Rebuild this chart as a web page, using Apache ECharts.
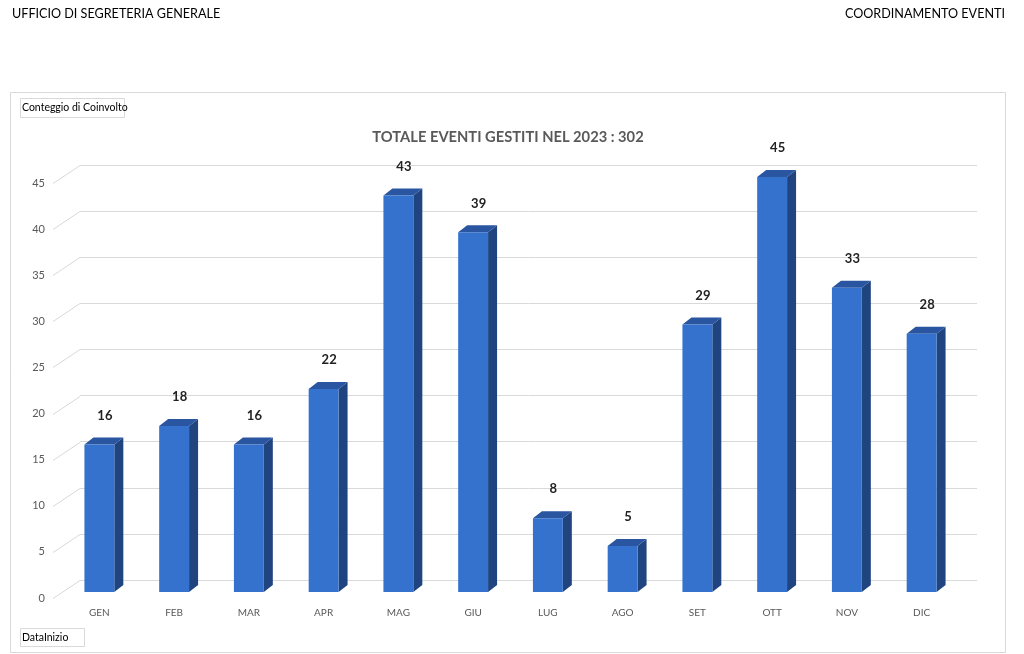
<!DOCTYPE html>
<html>
<head>
<meta charset="utf-8">
<script src="https://cdn.jsdelivr.net/npm/echarts@6/dist/echarts.min.js"></script>
<style>
html,body{margin:0;padding:0;background:#fff;}
#chart{width:1024px;height:654px;}
</style>
</head>
<body>
<div id="chart"></div>
<script>
const months = ['GEN','FEB','MAR','APR','MAG','GIU','LUG','AGO','SET','OTT','NOV','DIC'];
const eventCounts = [16,18,16,22,43,39,8,5,29,45,33,28];
const yTicks = [0,5,10,15,20,25,30,35,40,45];
const chartTitle = 'TOTALE EVENTI GESTITI NEL 2023 : 302';
const headerLeft = 'UFFICIO DI SEGRETERIA GENERALE';
const headerRight = 'COORDINAMENTO EVENTI';
const valueFieldLabel = 'Conteggio di Coinvolto';
const categoryFieldLabel = 'DataInizio';

const FONT = 'Lato, "Open Sans", sans-serif';
const DEPTH_X = 9, DEPTH_Y = -7;
const FRONT = '#3572CD', TOP = '#2A55A0', SIDE = '#1F447F';

const chart = echarts.init(document.getElementById('chart'));

chart.setOption({
  animation: false,
  backgroundColor: '#ffffff',
  grid: [
    {left: 80, right: 47, top: 165, bottom: 74},   // back wall
    {left: 53, right: 74, top: 183, bottom: 56},   // front plane (value labels)
    {left: 62, right: 65, top: 177, bottom: 62}    // bar front faces
  ],
  xAxis: [
    {gridIndex: 0, type: 'category', data: months, show: false},
    {gridIndex: 1, type: 'category', data: months, show: false},
    {gridIndex: 2, type: 'category', data: months,
     axisLine: {show: false}, axisTick: {show: false},
     axisLabel: {margin: 16, color: '#595959', fontFamily: FONT, fontSize: 10}}
  ],
  yAxis: [
    {gridIndex: 0, type: 'value', min: 0, max: 45, interval: 5,
     axisLabel: {show: false}, axisLine: {show: false}, axisTick: {show: false},
     splitLine: {lineStyle: {color: '#d9d9d9', width: 1}}},
    {gridIndex: 1, type: 'value', min: 0, max: 45, interval: 5,
     axisLine: {show: false}, axisTick: {show: false}, splitLine: {show: false},
     axisLabel: {margin: 8, color: '#595959', fontFamily: FONT, fontSize: 11}},
    {gridIndex: 2, type: 'value', min: 0, max: 45, interval: 5, show: false}
  ],
  series: [
    {
      type: 'custom', xAxisIndex: 0, yAxisIndex: 0, silent: true,
      data: yTicks.map(t => [0, t]),
      renderItem: function (params, api) {
        const y = Math.round(api.coord([0, api.value(1)])[1]) + 0.5;
        const x0 = params.coordSys.x;
        return {type: 'line', shape: {x1: x0, y1: y, x2: x0 - 27, y2: y + 18},
                style: {stroke: '#d9d9d9', lineWidth: 1}};
      }
    },
    {
      type: 'custom', xAxisIndex: 2, yAxisIndex: 2,
      data: eventCounts.map((v, i) => [i, v]),
      renderItem: function (params, api) {
        const top = api.coord([api.value(0), api.value(1)]);
        const base = api.coord([api.value(0), 0]);
        const w = api.size([1, 0])[0] * 0.4;
        const x1 = top[0] - w / 2, x2 = top[0] + w / 2;
        const yt = top[1], yb = base[1];
        return {
          type: 'group',
          children: [
            {type: 'polygon', shape: {points: [[x2, yb], [x2, yt], [x2 + DEPTH_X, yt + DEPTH_Y], [x2 + DEPTH_X, yb + DEPTH_Y]]},
             style: {fill: SIDE}},
            {type: 'polygon', shape: {points: [[x1, yt], [x2, yt], [x2 + DEPTH_X, yt + DEPTH_Y], [x1 + DEPTH_X, yt + DEPTH_Y]]},
             style: {fill: TOP}},
            {type: 'rect', shape: {x: x1, y: yt, width: w, height: yb - yt},
             style: {fill: FRONT}},
            {type: 'text', x: top[0] + DEPTH_X / 2 + 1, y: yt - 29,
             style: {text: String(api.value(1)), align: 'center', verticalAlign: 'middle',
                     fill: '#222222', font: 'bold 13px ' + FONT}}
          ]
        };
      }
    }
  ],
  graphic: [
    {type: 'rect', shape: {x: 10.5, y: 92.5, width: 995, height: 560}, silent: true,
     style: {fill: 'none', stroke: '#d9d9d9', lineWidth: 1}, z: -10},
    {type: 'text', x: 508, y: 137, style: {text: chartTitle, fill: '#595959', font: 'bold 14.7px ' + FONT, align: 'center', verticalAlign: 'middle'}},
    {type: 'text', x: 12, y: 14, style: {text: headerLeft, fill: '#000', font: '12.6px ' + FONT, verticalAlign: 'middle'}},
    {type: 'text', x: 1005, y: 14, style: {text: headerRight, fill: '#000', font: '12.6px ' + FONT, align: 'right', verticalAlign: 'middle'}},
    {type: 'rect', shape: {x: 20.5, y: 98.5, width: 104, height: 19}, style: {fill: '#fff', stroke: '#d9d9d9', lineWidth: 1}},
    {type: 'text', x: 22, y: 108, style: {text: valueFieldLabel, fill: '#000', font: '10.5px ' + FONT, verticalAlign: 'middle'}},
    {type: 'rect', shape: {x: 20.5, y: 628.5, width: 64, height: 18}, style: {fill: '#fff', stroke: '#d9d9d9', lineWidth: 1}},
    {type: 'text', x: 22, y: 638, style: {text: categoryFieldLabel, fill: '#000', font: '10.5px ' + FONT, verticalAlign: 'middle'}}
  ]
});
</script>
</body>
</html>
